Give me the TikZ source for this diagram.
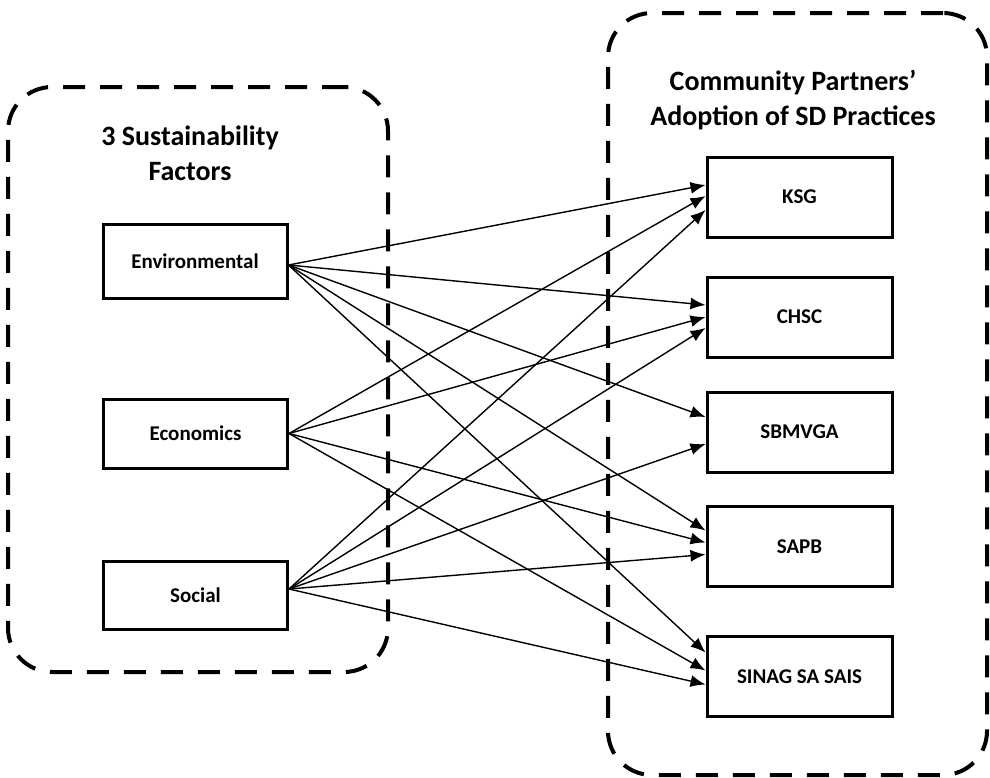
\documentclass[tikz,border=0pt]{standalone}
\usepackage{fontspec}
\setmainfont{Carlito}
\usetikzlibrary{arrows.meta}
\begin{document}
\begin{tikzpicture}[x=0.5pt,y=-0.5pt,
  group/.style={draw, line width=2pt, dash pattern=on 11pt off 7.5pt, rounded corners=22pt, inner sep=0pt},
  item/.style={draw, line width=1.5pt, inner sep=0pt, font=\bfseries\fontsize{10.5}{12.6}\selectfont},
  leftitem/.style={item, minimum width=92pt},
  rightitem/.style={item, minimum width=92.5pt, minimum height=40pt},
  heading/.style={font=\bfseries\fontsize{14}{17.5}\selectfont, align=center, inner sep=0pt},
  link/.style={-{Latex[length=7.5pt,width=6pt]}, line width=0.7pt}]

\useasboundingbox (0,0) rectangle (990,777);

% grouping frames
\node[group, minimum width=190pt, minimum height=292.5pt] (factors) at (198,379.5) {};
\node[group, minimum width=189.5pt, minimum height=381pt] (partners) at (797.5,394) {};

% headings
\node[heading] (factorstitle) at (190,153) {3 Sustainability\\Factors};
\node[heading] (partnerstitle) at (793,100.5) {Community Partners'\\Adoption of SD Practices};

% sustainability factors
\node[leftitem, minimum height=37pt] (env) at (195,261) {Environmental};
\node[leftitem, minimum height=34.5pt] (econ) at (195.5,433.5) {Economics};
\node[leftitem, minimum height=34pt] (soc) at (195.5,595) {Social};

% community partners
\node[rightitem] (ksg) at (799.5,197) {KSG};
\node[rightitem] (chsc) at (799.5,317) {CHSC};
\node[rightitem] (sbmvga) at (799.5,432) {SBMVGA};
\node[rightitem] (sapb) at (799.5,546.5) {SAPB};
\node[rightitem] (sinag) at (799.5,676.5) {SINAG SA SAIS};

% links from Environmental
\draw[link] ([yshift=-2pt]env.east) -- ([yshift=6pt]ksg.west);
\draw[link] ([yshift=-2pt]env.east) -- ([yshift=6pt]chsc.west);
\draw[link] ([yshift=-2pt]env.east) -- ([yshift=7.5pt]sbmvga.west);
\draw[link] ([yshift=-2pt]env.east) -- ([yshift=8pt]sapb.west);
\draw[link] ([yshift=-2pt]env.east) -- ([yshift=12pt]sinag.west);

% links from Economics
\draw[link] (econ.east) -- ([yshift=0.5pt]ksg.west);
\draw[link] (econ.east) -- ([yshift=0pt]chsc.west);
\draw[link] (econ.east) -- ([yshift=2pt]sapb.west);
\draw[link] (econ.east) -- ([yshift=3pt]sinag.west);

% links from Social
\draw[link] ([yshift=3pt]soc.east) -- ([yshift=-6.5pt]ksg.west);
\draw[link] ([yshift=3pt]soc.east) -- ([yshift=-5.5pt]chsc.west);
\draw[link] ([yshift=3pt]soc.east) -- ([yshift=-6pt]sbmvga.west);
\draw[link] ([yshift=3pt]soc.east) -- ([yshift=-4pt]sapb.west);
\draw[link] ([yshift=3pt]soc.east) -- ([yshift=-4pt]sinag.west);
\end{tikzpicture}
\end{document}
